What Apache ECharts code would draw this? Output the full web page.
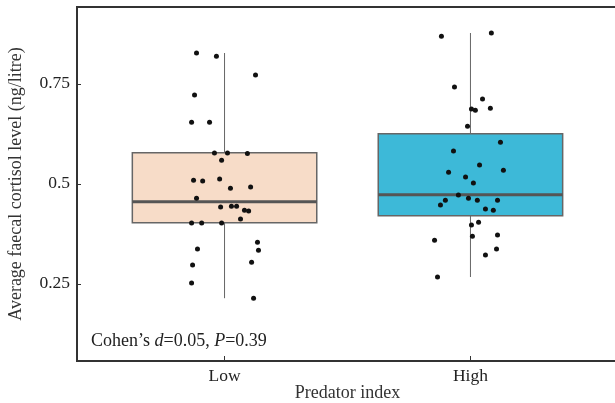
<!DOCTYPE html>
<html>
<head>
<meta charset="utf-8">
<script src="https://cdn.jsdelivr.net/npm/echarts@6/dist/echarts.min.js"></script>
<style>
  html, body { margin: 0; padding: 0; background: #fff; }
  #main { width: 615px; height: 403px; }
</style>
</head>
<body>
<div id="main"></div>
<script>
// categories and box statistics
var groups = ['Low', 'High'];
var groupPos = [1, 2];
var boxColors = ['#f7dcc8', '#3db9d8'];
// [whisker low, Q1, median, Q3, whisker high]
var boxStats = [
  [0.214, 0.4025, 0.455, 0.5775, 0.827],
  [0.267, 0.42, 0.4725, 0.625, 0.877]
];
var yTicks = [0.25, 0.5, 0.75];

// jittered points, [x position, value]
var lowPoints = [
  [0.886, 0.827], [0.967, 0.819], [1.126, 0.772], [0.878, 0.722], [0.866, 0.654],
  [0.939, 0.654], [0.959, 0.577], [1.012, 0.577], [1.093, 0.576], [0.988, 0.559],
  [0.874, 0.509], [0.911, 0.507], [0.980, 0.512], [1.024, 0.489], [1.106, 0.492],
  [0.886, 0.464], [0.984, 0.442], [1.028, 0.444], [1.049, 0.444], [1.081, 0.434],
  [1.098, 0.432], [1.065, 0.412], [0.866, 0.402], [0.907, 0.402], [0.988, 0.402],
  [1.134, 0.354], [0.890, 0.337], [1.138, 0.334], [0.870, 0.297], [1.110, 0.304],
  [0.866, 0.252], [1.118, 0.214]
];
var highPoints = [
  [1.882, 0.869], [2.085, 0.877], [1.935, 0.742], [2.049, 0.712], [2.004, 0.687],
  [2.020, 0.684], [2.081, 0.689], [1.988, 0.644], [2.122, 0.604], [1.931, 0.582],
  [2.037, 0.547], [1.911, 0.529], [2.134, 0.534], [1.980, 0.517], [2.012, 0.502],
  [1.951, 0.472], [1.992, 0.464], [1.898, 0.459], [2.028, 0.459], [2.110, 0.459],
  [1.878, 0.447], [2.061, 0.437], [2.093, 0.434], [2.004, 0.397], [2.033, 0.404],
  [1.854, 0.359], [2.008, 0.369], [2.110, 0.372], [2.106, 0.337], [2.061, 0.322],
  [1.866, 0.267]
];

var boxData = [];
for (var i = 0; i < groups.length; i++) {
  boxData.push([groupPos[i]].concat(boxStats[i]).concat([i]));
}

var fontFam = '"Liberation Serif", "DejaVu Serif", serif';
var myChart = echarts.init(document.getElementById('main'));

var option = {
  animation: false,
  grid: {
    left: 77, top: 7, right: -3, bottom: 42,
    outerBoundsMode: 'none',
    containLabel: false,
    show: true, borderColor: '#333', borderWidth: 2
  },
  xAxis: {
    type: 'value',
    min: 0.4,
    max: 2.6,
    name: 'Predator index',
    nameLocation: 'middle',
    nameGap: 23,
    nameMoveOverlap: false,
    nameTextStyle: { fontFamily: fontFam, fontSize: 18, color: '#333' },
    axisLine: { show: true, lineStyle: { color: '#333', width: 2 } },
    axisTick: { show: true, inside: true, length: 5, customValues: groupPos, lineStyle: { color: '#333' } },
    axisLabel: {
      customValues: groupPos,
      margin: 6,
      fontFamily: fontFam, fontSize: 17.5, color: '#222',
      formatter: function (v) { return groups[groupPos.indexOf(v)] || ''; }
    },
    splitLine: { show: false }
  },
  yAxis: {
    type: 'value',
    min: 0.057,
    max: 0.942,
    name: 'Average faecal cortisol level (ng/litre)',
    nameLocation: 'middle',
    nameGap: 52,
    nameMoveOverlap: false,
    nameTextStyle: { fontFamily: fontFam, fontSize: 18, color: '#333' },
    axisLine: { show: true, lineStyle: { color: '#333', width: 2 } },
    axisTick: { show: true, inside: true, length: 4, customValues: yTicks, lineStyle: { color: '#333' } },
    axisLabel: { customValues: yTicks, margin: 7, fontFamily: fontFam, fontSize: 17.5, color: '#222' },
    splitLine: { show: false }
  },
  graphic: [{
    type: 'text',
    left: 91,
    top: 332,
    style: {
      text: 'Cohen\u2019s {i|d}=0.05, {i|P}=0.39',
      font: '18px ' + fontFam,
      fill: '#222',
      rich: { i: { fontStyle: 'italic', fontFamily: fontFam, fontSize: 18, fill: '#222' } }
    }
  }],
  series: [
    {
      type: 'custom',
      data: boxData,
      encode: { x: 0, y: [1, 2, 3, 4, 5] },
      renderItem: function (params, api) {
        var x = api.value(0);
        var lo = api.coord([x, api.value(1)]);
        var q1 = api.coord([x, api.value(2)]);
        var med = api.coord([x, api.value(3)]);
        var q3 = api.coord([x, api.value(4)]);
        var hi = api.coord([x, api.value(5)]);
        var half = api.size([0.75, 0])[0] / 2;
        var idx = api.value(6);
        return {
          type: 'group',
          children: [
            { type: 'line', shape: { x1: hi[0], y1: hi[1], x2: q3[0], y2: q3[1] }, style: { stroke: '#666', lineWidth: 1 } },
            { type: 'line', shape: { x1: q1[0], y1: q1[1], x2: lo[0], y2: lo[1] }, style: { stroke: '#666', lineWidth: 1 } },
            { type: 'rect', shape: { x: q3[0] - half, y: q3[1], width: half * 2, height: q1[1] - q3[1] },
              style: { fill: boxColors[idx], stroke: '#666', lineWidth: 1.5 } },
            { type: 'line', shape: { x1: med[0] - half, y1: med[1], x2: med[0] + half, y2: med[1] }, style: { stroke: '#555', lineWidth: 3 } }
          ]
        };
      },
      z: 2
    },
    {
      type: 'scatter',
      data: lowPoints,
      symbolSize: 5,
      itemStyle: { color: '#111', opacity: 1 },
      z: 3
    },
    {
      type: 'scatter',
      data: highPoints,
      symbolSize: 5,
      itemStyle: { color: '#111', opacity: 1 },
      z: 3
    }
  ]
};
myChart.setOption(option);
window.addEventListener('resize', function () {
  myChart.resize();
});
</script>
</body>
</html>
